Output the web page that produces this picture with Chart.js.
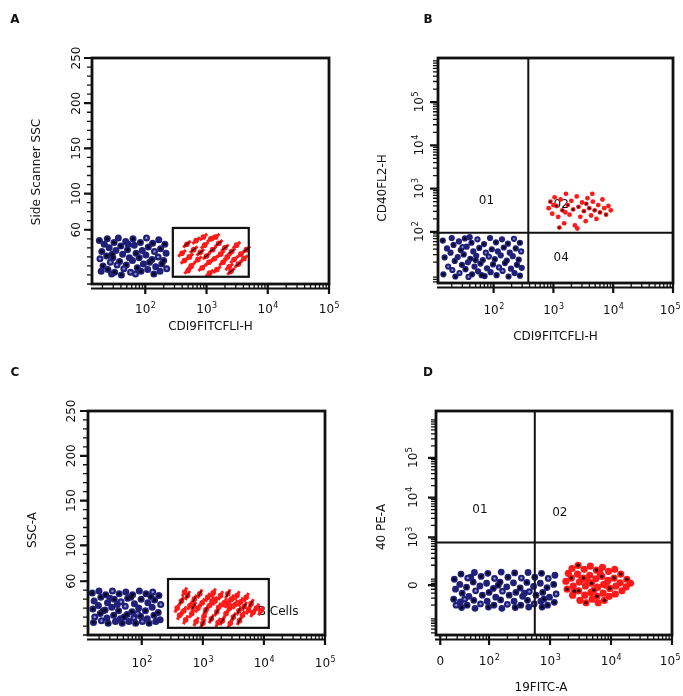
<!DOCTYPE html>
<html>
<head>
<meta charset="utf-8">
<title>CD19 / CD40 flow cytometry</title>
<script src="https://cdn.jsdelivr.net/npm/chart.js@4.4.1/dist/chart.umd.min.js"></script>
<style>
  html, body { margin: 0; padding: 0; background: #fff; }
  #page { position: relative; width: 683px; height: 696px; overflow: hidden; background: #fff; }
  #page canvas { position: absolute; left: 0; top: 0; }
</style>
</head>
<body>
<div id="page">
  <canvas id="cA" width="683" height="696"></canvas>
  <canvas id="cB" width="683" height="696"></canvas>
  <canvas id="cC" width="683" height="696"></canvas>
  <canvas id="cD" width="683" height="696"></canvas>
</div>
<script>
// ---- axis ticks (fluorescence axes are stored in decades: 3 = 10^3) ----
const logDecades = [2, 3, 4, 5];          // 10^2 .. 10^5 on the CD19 axes
const sscTicks = [60, 100, 150, 200, 250]; // side scatter ticks
const bYDecades = [2, 3, 4, 5];           // CD40 FL2-H
const dYDecades = [3, 4, 5];              // 40 PE-A
const dXZero = 1.2;                       // position of "0" on the biexponential 19FITC-A axis
const dYZero = 1.8;                       // position of "0" on the biexponential 40 PE-A axis

// ---- gates: [xFrom, xTo, yFrom, yTo] ----
const gateA = [2.45, 3.69, 8, 62];
const gateC = [2.43, 4.08, 8, 62.5];
const gateCName = 'B Cells';

// ---- quadrant thresholds: [x, y] ----
const quadB = [2.58, 1.98];
const quadD = [2.75, 2.875];
const quadNamesB = ['01', '02', '04'];
const quadNamesD = ['01', '02'];

// ---- events: A  (CD19 FL1-H decades, SSC) ----
const a19Neg = [
  [1.25,48],[1.33,44],[1.29,36],[1.26,28],[1.31,20],[1.28,14],
  [1.38,50],[1.41,40],[1.37,31],[1.43,24],[1.39,16],[1.45,11],
  [1.49,46],[1.52,37],[1.47,29],[1.54,21],[1.50,13],[1.56,51],
  [1.60,42],[1.63,33],[1.58,25],[1.65,17],[1.61,10],[1.68,47],
  [1.71,38],[1.74,29],[1.69,21],[1.76,13],[1.80,50],[1.82,43],
  [1.85,34],[1.79,26],[1.87,18],[1.84,11],[1.92,46],[1.95,37],
  [1.90,29],[1.97,22],[1.93,14],[2.02,51],[2.05,41],[2.01,32],
  [2.07,24],[2.04,16],[2.12,45],[2.15,36],[2.11,27],[2.17,19],
  [2.14,11],[2.22,49],[2.25,39],[2.21,30],[2.27,22],[2.24,14],
  [2.32,44],[2.34,34],[2.30,26],[2.35,17],[1.46,33],[1.72,44]
];
const a19Pos = [
  [2.60,34],[2.64,26],[2.68,44],[2.72,30],[2.75,20],[2.79,38],
  [2.83,48],[2.86,27],[2.90,35],[2.93,18],[2.97,43],[3.00,31],
  [3.04,24],[3.07,50],[3.10,38],[3.13,28],[3.17,16],[3.20,45],
  [3.23,33],[3.27,24],[3.30,40],[3.34,30],[3.37,19],[3.41,36],
  [3.45,27],[3.49,43],[3.52,22],[3.56,33],[3.61,28],[3.65,38],
  [2.70,15],[3.15,52],[3.40,14],[2.95,52],[3.05,12]
];

// ---- events: B  (CD19 FL1-H decades, CD40 FL2-H decades) ----
const b19Neg = [
  [1.15,1.80],[1.22,1.62],[1.18,1.41],[1.24,1.20],[1.16,1.02],
  [1.30,1.86],[1.33,1.70],[1.28,1.52],[1.35,1.33],[1.31,1.12],[1.36,0.97],
  [1.42,1.78],[1.45,1.58],[1.40,1.42],[1.47,1.24],[1.43,1.05],
  [1.52,1.85],[1.55,1.66],[1.50,1.48],[1.57,1.30],[1.53,1.14],[1.58,0.96],
  [1.63,1.75],[1.66,1.55],[1.61,1.38],[1.68,1.20],[1.64,1.02],
  [1.73,1.83],[1.76,1.63],[1.71,1.45],[1.78,1.27],[1.74,1.09],
  [1.84,1.72],[1.87,1.52],[1.82,1.35],[1.89,1.16],[1.85,0.98],
  [1.94,1.86],[1.97,1.60],[1.92,1.43],[1.99,1.25],[1.95,1.07],
  [2.04,1.76],[2.07,1.55],[2.02,1.37],[2.09,1.18],[2.05,1.00],
  [2.14,1.83],[2.17,1.64],[2.12,1.46],[2.19,1.28],[2.15,1.10],
  [2.24,1.73],[2.27,1.52],[2.22,1.34],[2.29,1.15],[2.25,0.97],
  [2.34,1.84],[2.37,1.62],[2.32,1.44],[2.39,1.24],[2.35,1.05],
  [2.44,1.75],[2.46,1.55],[2.42,1.36],[2.47,1.17],[2.44,0.99],
  [1.60,1.88],[1.80,1.00],[1.48,1.65],[1.70,1.35]
];
const b40Pos = [
  [2.92,2.55],[2.95,2.70],[2.98,2.42],[3.02,2.80],[3.05,2.60],[3.08,2.35],
  [3.12,2.75],[3.15,2.50],[3.18,2.20],[3.21,2.88],[3.24,2.62],[3.27,2.40],
  [3.30,2.72],[3.33,2.52],[3.36,2.15],[3.39,2.82],[3.42,2.58],[3.45,2.35],
  [3.48,2.68],[3.51,2.48],[3.54,2.25],[3.57,2.78],[3.60,2.55],[3.63,2.38],
  [3.66,2.70],[3.69,2.50],[3.72,2.30],[3.75,2.62],[3.78,2.45],[3.82,2.75],
  [3.85,2.55],[3.88,2.40],[3.92,2.60],[3.96,2.50],[3.10,2.10],[3.40,2.08],
  [3.20,2.45],[3.55,2.65],[3.00,2.62],[3.65,2.88]
];

// ---- events: C  (CD19 decades, SSC-A) ----
const c19Neg = [
  [1.19,47],[1.22,38],[1.20,29],[1.23,20],[1.21,14],
  [1.30,49],[1.33,42],[1.29,33],[1.32,24],[1.34,16],
  [1.41,45],[1.44,36],[1.40,28],[1.43,19],[1.45,13],
  [1.52,49],[1.55,40],[1.51,31],[1.54,22],[1.57,15],
  [1.63,46],[1.66,37],[1.62,27],[1.65,18],[1.68,13],
  [1.74,48],[1.77,41],[1.73,32],[1.76,23],[1.79,15],
  [1.85,45],[1.88,35],[1.84,26],[1.87,19],[1.90,13],
  [1.96,49],[1.99,40],[1.95,30],[1.98,21],[2.01,15],
  [2.07,46],[2.10,36],[2.06,27],[2.09,18],[2.12,13],
  [2.18,48],[2.21,39],[2.17,31],[2.20,22],[2.23,15],
  [2.28,44],[2.31,34],[2.27,25],[2.30,17],
  [1.37,27],[1.60,34],[1.82,42],[1.93,24],[2.15,43],[1.48,41],[1.71,20]
];
const c19Pos = [
  [2.58,30],[2.62,22],[2.65,38],[2.69,27],[2.72,17],[2.75,44],
  [2.79,33],[2.82,24],[2.86,40],[2.89,15],[2.92,30],[2.95,46],
  [2.99,36],[3.02,21],[3.05,28],[3.08,42],[3.11,33],[3.14,18],
  [3.17,47],[3.20,38],[3.23,26],[3.26,31],[3.29,44],[3.32,16],
  [3.35,36],[3.38,24],[3.41,46],[3.44,30],[3.47,40],[3.50,20],
  [3.53,34],[3.56,44],[3.59,27],[3.62,37],[3.65,22],[3.68,32],
  [3.71,42],[3.75,28],[3.79,35],[3.82,25],[2.70,48],[3.00,13],
  [3.25,14],[3.45,13],[2.85,32],[3.15,38],[3.40,35],[3.60,16],
  [3.88,30],[3.95,27]
];

// ---- events: D  (19FITC-A, 40 PE-A, biexponential decades) ----
const d19Neg = [
  [1.43,1.95],[1.45,1.70],[1.42,1.45],[1.46,1.30],
  [1.54,2.08],[1.52,1.82],[1.56,1.60],[1.53,1.38],[1.55,1.24],
  [1.65,1.98],[1.63,1.75],[1.67,1.52],[1.64,1.30],
  [1.76,2.12],[1.74,1.88],[1.78,1.66],[1.75,1.42],[1.77,1.22],
  [1.87,2.02],[1.85,1.78],[1.89,1.55],[1.86,1.33],
  [1.98,2.10],[1.96,1.85],[2.00,1.62],[1.97,1.40],[1.99,1.25],
  [2.09,1.97],[2.07,1.72],[2.11,1.50],[2.08,1.30],
  [2.20,2.13],[2.18,1.88],[2.22,1.65],[2.19,1.43],[2.21,1.22],
  [2.31,2.00],[2.29,1.76],[2.33,1.55],[2.30,1.32],
  [2.42,2.11],[2.40,1.86],[2.44,1.62],[2.41,1.40],[2.43,1.24],
  [2.53,1.98],[2.51,1.73],[2.55,1.52],[2.52,1.30],
  [2.64,2.12],[2.62,1.87],[2.66,1.64],[2.63,1.42],[2.65,1.25],
  [2.75,2.00],[2.73,1.77],[2.77,1.55],[2.74,1.33],
  [2.86,2.10],[2.84,1.85],[2.88,1.62],[2.85,1.40],[2.87,1.25],
  [2.97,1.97],[2.95,1.74],[2.99,1.50],[2.96,1.30],
  [3.08,2.05],[3.06,1.82],[3.10,1.58],[3.07,1.37],
  [1.70,2.00],[2.15,1.80],[2.58,1.60],[2.90,1.45],[1.60,1.45]
];
const d19Pos = [
  [3.26,1.90],[3.28,1.70],[3.30,2.10],
  [3.36,2.22],[3.35,1.98],[3.38,1.78],[3.37,1.55],
  [3.46,2.30],[3.45,2.08],[3.48,1.88],[3.47,1.66],[3.49,1.42],
  [3.56,2.20],[3.55,1.98],[3.58,1.78],[3.57,1.55],[3.59,1.36],
  [3.66,2.28],[3.65,2.05],[3.68,1.85],[3.67,1.62],[3.69,1.45],
  [3.76,2.18],[3.75,1.96],[3.78,1.75],[3.77,1.52],[3.79,1.36],
  [3.86,2.25],[3.85,2.02],[3.88,1.82],[3.87,1.60],[3.89,1.42],
  [3.96,2.15],[3.95,1.92],[3.98,1.72],[3.97,1.52],
  [4.06,2.20],[4.05,1.98],[4.08,1.78],[4.07,1.58],
  [4.16,2.08],[4.15,1.86],[4.18,1.66],
  [4.26,1.95],[4.25,1.76],[4.32,1.85],
  [3.40,1.65],[3.62,1.90],[3.82,2.10],[3.72,1.68],[3.92,1.80],[3.52,1.95]
];

// ---------------------------------------------------------------------
const INK = '#111111';
const FAMILY = '"DejaVu Sans", Verdana, sans-serif';
const TICK_FONT = '12px ' + FAMILY;
const SUP_FONT = '8px ' + FAMILY;
const TITLE_FONT = '12px ' + FAMILY;
const LETTER_FONT = 'bold 12px ' + FAMILY;

const NAVY = '#202078', NAVY_DARK = '#05051a', NAVY_LIGHT = '#8a8ad6';
const RED = '#ff1a1a', RED_DARK = '#3a0303';

const toXY = pts => pts.map(([x, y]) => ({ x, y }));
const every = (pts, n, off) => pts.filter((_, i) => i % n === (off || 0));

function logMinors(min, max) {
  const out = [];
  for (let n = Math.floor(min) - 1; n <= Math.ceil(max); n++) {
    for (let k = 2; k <= 9; k++) {
      const v = n + Math.log10(k);
      if (v > min && v < max) out.push(v);
    }
  }
  return out;
}
function linMinors(min, max, step) {
  const out = [];
  for (let v = min; v <= max; v += step) out.push(v);
  return out;
}

// "10" with a raised exponent, centred on (cx, cy)
function powText(ctx, exp, cx, cy) {
  ctx.font = TICK_FONT; const w1 = ctx.measureText('10').width;
  ctx.font = SUP_FONT; const w2 = ctx.measureText(exp).width;
  const x0 = cx - (w1 + w2) / 2;
  ctx.textAlign = 'left'; ctx.textBaseline = 'middle';
  ctx.font = TICK_FONT; ctx.fillText('10', x0, cy);
  ctx.font = SUP_FONT; ctx.fillText(exp, x0 + w1 + 0.5, cy - 4);
}
function plainText(ctx, s, cx, cy, font) {
  ctx.font = font || TICK_FONT; ctx.textAlign = 'center'; ctx.textBaseline = 'middle';
  ctx.fillText(s, cx, cy);
}
function rotated(ctx, cx, cy, fn) {
  ctx.save(); ctx.translate(cx, cy); ctx.rotate(-Math.PI / 2); fn(); ctx.restore();
}

function makeDecor(p) {
  return {
    id: 'flowDecor' + p.letter,
    beforeDatasetsDraw(chart) {
      const ctx = chart.ctx, xs = chart.scales.x, ys = chart.scales.y;
      ctx.save();
      ctx.fillStyle = INK;
      (p.regionLabels || []).forEach(r => {
        ctx.font = TICK_FONT; ctx.textAlign = r.align || 'center'; ctx.textBaseline = 'middle';
        ctx.fillText(r.text, xs.getPixelForValue(r.x), ys.getPixelForValue(r.y));
      });
      ctx.restore();
    },
    afterDatasetsDraw(chart) {
      const ctx = chart.ctx, xs = chart.scales.x, ys = chart.scales.y, a = chart.chartArea;
      ctx.save();
      ctx.strokeStyle = INK; ctx.fillStyle = INK; ctx.lineCap = 'butt';

      // gate rectangle
      if (p.gate) {
        const [x0, x1, y0, y1] = p.gate;
        const px0 = xs.getPixelForValue(x0), px1 = xs.getPixelForValue(x1);
        const py0 = ys.getPixelForValue(y0), py1 = ys.getPixelForValue(y1);
        ctx.lineWidth = 2.2;
        ctx.strokeRect(px0, py1, px1 - px0, py0 - py1);
      }
      // quadrant lines
      if (p.quad) {
        const qx = xs.getPixelForValue(p.quad[0]), qy = ys.getPixelForValue(p.quad[1]);
        ctx.lineWidth = 2;
        ctx.beginPath();
        ctx.moveTo(qx, a.top); ctx.lineTo(qx, a.bottom);
        ctx.moveTo(a.left, qy); ctx.lineTo(a.right, qy);
        ctx.stroke();
      }
      // frame
      ctx.lineWidth = 2.8;
      ctx.strokeRect(a.left, a.top, a.right - a.left, a.bottom - a.top);

      // bottom axis comb
      ctx.lineWidth = 2;
      ctx.beginPath(); ctx.moveTo(a.left - 1, a.bottom + 4.5); ctx.lineTo(a.right + 1, a.bottom + 4.5); ctx.stroke();
      ctx.lineWidth = 1.3;
      ctx.beginPath();
      p.xMinor.forEach(v => { const px = xs.getPixelForValue(v); ctx.moveTo(px, a.bottom); ctx.lineTo(px, a.bottom + 5); });
      ctx.stroke();
      ctx.lineWidth = 2.2;
      ctx.beginPath();
      p.xMajor.forEach(t => { const px = xs.getPixelForValue(t.v); ctx.moveTo(px, a.bottom); ctx.lineTo(px, a.bottom + 10); });
      ctx.stroke();

      // left axis comb
      ctx.lineWidth = 1.3;
      ctx.beginPath();
      p.yMinor.forEach(v => { const py = ys.getPixelForValue(v); ctx.moveTo(a.left - 5, py); ctx.lineTo(a.left, py); });
      ctx.stroke();
      ctx.lineWidth = 2.2;
      ctx.beginPath();
      p.yMajor.forEach(t => { const py = ys.getPixelForValue(t.v); ctx.moveTo(a.left - 8, py); ctx.lineTo(a.left, py); });
      ctx.stroke();

      // tick labels
      p.xMajor.forEach(t => {
        const px = Math.min(xs.getPixelForValue(t.v), 670);
        if (t.pow) powText(ctx, t.pow, px, p.xLabelY); else plainText(ctx, t.text, px, p.xLabelY);
      });
      p.yMajor.forEach(t => {
        const py = ys.getPixelForValue(t.v);
        rotated(ctx, p.yLabelX, py, () => {
          if (t.pow) powText(ctx, t.pow, 0, 0); else plainText(ctx, t.text, 0, 0);
        });
      });

      // titles and panel letter
      if (p.xTitle) plainText(ctx, p.xTitle, p.xTitleX != null ? p.xTitleX : (a.left + a.right) / 2, p.xTitleY, TITLE_FONT);
      rotated(ctx, p.yTitleX, p.yTitleY, () => plainText(ctx, p.yTitle, 0, 0, TITLE_FONT));
      plainText(ctx, p.letter, p.letterPos[0], p.letterPos[1], LETTER_FONT);
      ctx.restore();
    }
  };
}

// scatter layers for a negative (blue) and positive (red) population
function blueLayers(pts, r) {
  return [
    { data: toXY(pts), pointRadius: r, backgroundColor: NAVY, borderWidth: 0, order: 9 },
    { data: toXY(every(pts, 2)), pointRadius: r * 0.5, backgroundColor: NAVY_DARK, borderWidth: 0, order: 8 },
    { data: toXY(every(pts, 6, 3)), pointRadius: r * 0.35, backgroundColor: NAVY_LIGHT, borderWidth: 0, order: 7 }
  ];
}
function redDots(pts, r) {
  return [
    { data: toXY(pts), pointRadius: r, backgroundColor: RED, borderWidth: 0, order: 4 },
    { data: toXY(every(pts, 3, 1)), pointRadius: r * 0.5, backgroundColor: RED_DARK, borderWidth: 0, order: 3 }
  ];
}
function redStreaks(pts, rot) {
  return [
    { data: toXY(pts), pointRadius: 2.8, backgroundColor: RED, borderWidth: 0, order: 5 },
    { data: toXY(pts), pointStyle: 'line', pointRotation: rot, pointRadius: 5, borderColor: RED, borderWidth: 3, order: 4 },
    { data: toXY(every(pts, 3, 2)), pointStyle: 'line', pointRotation: rot, pointRadius: 3, borderColor: RED_DARK, borderWidth: 1.5, order: 3 }
  ];
}

const powTicks = list => list.map(e => ({ v: e, pow: String(e) }));
const numTicks = list => list.map(v => ({ v, text: String(v) }));

const panels = [
  {
    canvas: 'cA', letter: 'A', letterPos: [15, 20],
    box: { l: 92, t: 58, r: 329, b: 284 },
    x: [1.13, 5.0], y: [0, 250],
    xMajor: powTicks(logDecades), yMajor: numTicks(sscTicks),
    xMinor: logMinors(1.13, 5.0), yMinor: linMinors(0, 250, 10),
    xLabelY: 310, yLabelX: 77,
    xTitle: 'CDI9FITCFLI-H', xTitleY: 327,
    yTitle: 'Side Scanner SSC', yTitleX: 37, yTitleY: 172,
    gate: gateA,
    datasets: [...blueLayers(a19Neg, 3.5), ...redStreaks(a19Pos, -40)]
  },
  {
    canvas: 'cB', letter: 'B', letterPos: [428, 20],
    box: { l: 438, t: 58, r: 673, b: 283 },
    x: [1.07, 5.0], y: [0.82, 6.02],
    xMajor: powTicks(logDecades), yMajor: powTicks(bYDecades),
    xMinor: logMinors(1.07, 5.0), yMinor: logMinors(0.82, 6.02),
    xLabelY: 311, yLabelX: 420,
    xTitle: 'CDI9FITCFLI-H', xTitleY: 337,
    yTitle: 'CD40FL2-H', yTitleX: 383, yTitleY: 188,
    quad: quadB,
    regionLabels: [
      { text: quadNamesB[0], x: 1.88, y: 2.71 },
      { text: quadNamesB[1], x: 3.13, y: 2.62 },
      { text: quadNamesB[2], x: 3.13, y: 1.39 }
    ],
    datasets: [...blueLayers(b19Neg, 3.1), ...redDots(b40Pos, 2.4)]
  },
  {
    canvas: 'cC', letter: 'C', letterPos: [15, 373],
    box: { l: 88, t: 411, r: 325, b: 635 },
    x: [1.12, 5.0], y: [0, 250],
    xMajor: powTicks(logDecades), yMajor: numTicks(sscTicks),
    xMinor: logMinors(1.12, 5.0), yMinor: linMinors(0, 250, 10),
    xLabelY: 664, yLabelX: 72,
    xTitle: null,
    yTitle: 'SSC-A', yTitleX: 33, yTitleY: 530,
    gate: gateC,
    regionLabels: [{ text: gateCName, x: 3.90, y: 25.5, align: 'left' }],
    datasets: [...blueLayers(c19Neg, 3.5), ...redStreaks(c19Pos, -62)]
  },
  {
    canvas: 'cD', letter: 'D', letterPos: [428, 373],
    box: { l: 436, t: 411, r: 672, b: 635 },
    x: [1.13, 5.0], y: [0.55, 6.175],
    xMajor: [{ v: dXZero, text: '0' }, ...powTicks(logDecades)],
    yMajor: [{ v: dYZero, text: '0' }, ...powTicks(dYDecades)],
    xMinor: logMinors(1.13, 5.0), yMinor: logMinors(0.55, 6.175),
    xLabelY: 662, yLabelX: 414,
    xTitle: '19FITC-A', xTitleX: 541, xTitleY: 688,
    yTitle: '40 PE-A', yTitleX: 382, yTitleY: 527,
    quad: quadD,
    regionLabels: [
      { text: quadNamesD[0], x: 1.85, y: 3.7 },
      { text: quadNamesD[1], x: 3.16, y: 3.625 }
    ],
    datasets: [...blueLayers(d19Neg, 3.4), ...redDots(d19Pos, 3.6)]
  }
];

const W = 683, H = 696;
panels.forEach(p => {
  new Chart(document.getElementById(p.canvas), {
    type: 'scatter',
    data: { datasets: p.datasets },
    options: {
      responsive: false,
      animation: false,
      devicePixelRatio: 1,
      events: [],
      layout: { padding: { left: p.box.l, top: p.box.t, right: W - p.box.r, bottom: H - p.box.b } },
      plugins: { legend: { display: false }, tooltip: { enabled: false } },
      scales: {
        x: { type: 'linear', display: false, min: p.x[0], max: p.x[1] },
        y: { type: 'linear', display: false, min: p.y[0], max: p.y[1] }
      }
    },
    plugins: [makeDecor(p)]
  });
});
</script>
</body>
</html>
